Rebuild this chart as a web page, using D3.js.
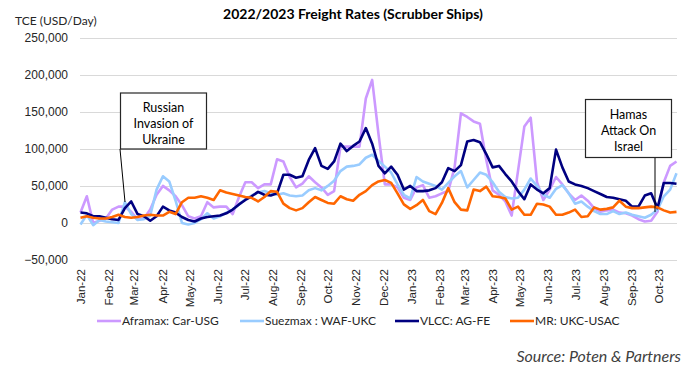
<!DOCTYPE html>
<html>
<head>
<meta charset="utf-8">
<script src="https://cdn.jsdelivr.net/npm/d3@7"></script>
<style>
  body { margin: 0; background: #fff; }
  svg { display: block; font-family: Lato, "Liberation Sans", sans-serif; }
  .grid line { stroke: #d9d9d9; stroke-width: 1; }
  .tick text { fill: #262626; }
</style>
</head>
<body>
<div id="chart"></div>
<script>
// Weekly freight rates, thousands USD/day, first week = 1 Jan 2022
const startDate = new Date(2022, 0, 1);

const aframax = [14, 36, 0, 3, 6, 18, 22, 22, 15, 5, 6, 18, 38, 50, 44, 36, 24, 9, 6, 9,
  28, 21, 22, 22, 12, 35, 55, 55, 47, 52, 52, 86, 83, 62, 48, 53, 63, 55, 48, 38,
  43, 103, 103, 103, 103, 168, 193, 120, 52, 52, 48, 34, 31, 48, 51, 34, 36, 40, 43, 75,
  148, 143, 137, 134, 85, 44, 38, 29, 10, 70, 130, 142, 55, 31, 45, 62, 52, 40, 31, 37,
  30, 20, 15, 17, 18, 14, 13, 10, 5, 2, 3, 15, 55, 77, 83];

const suezmax = [-2, 11, -3, 4, 2, 1, 0, 28, 12, 4, 5, 10, 45, 63, 56, 30, 0, -2, 0, 5,
  13, 6, 9, 14, 18, 25, 32, 37, 41, 43, 40, 38, 40, 37, 36, 37, 44, 47, 44, 50,
  57, 70, 76, 77, 79, 88, 92, 84, 76, 68, 52, 38, 33, 62, 56, 53, 50, 45, 54, 63,
  70, 48, 58, 68, 65, 55, 42, 35, 33, 34, 45, 60, 50, 38, 34, 46, 51, 40, 26, 29,
  22, 16, 12, 12, 16, 12, 14, 11, 9, 7, 11, 18, 36, 45, 67];

const vlcc = [14, 13, 9, 9, 7, 5, 4, 20, 29, 12, 9, 3, 9, 22, 17, 14, 8, 4, 2, 6,
  8, 9, 10, 13, 18, 25, 31, 36, 42, 38, 37, 40, 65, 65, 61, 63, 85, 101, 77, 73,
  83, 107, 97, 104, 110, 128, 107, 77, 67, 76, 65, 45, 50, 43, 43, 44, 47, 55, 74, 70,
  78, 110, 112, 109, 93, 75, 77, 66, 56, 43, 32, 52, 45, 40, 47, 99, 75, 56, 52, 50,
  47, 43, 39, 35, 34, 32, 30, 22, 22, 37, 40, 20, 54, 54, 53];

const mr = [7, 9, 7, 6, 6, 8, 11, 8, 7, 8, 10, 11, 10, 10, 15, 12, 28, 34, 34, 36,
  34, 31, 44, 41, 39, 37, 35, 34, 29, 35, 43, 42, 26, 20, 17, 20, 28, 35, 31, 27,
  26, 36, 32, 30, 38, 43, 51, 56, 58, 54, 40, 25, 19, 24, 31, 16, 12, 27, 47, 28,
  18, 17, 45, 43, 49, 36, 35, 33, 18, 22, 11, 11, 26, 25, 22, 11, 11, 14, 18, 8,
  9, 21, 18, 19, 21, 30, 22, 20, 20, 21, 22, 21, 17, 14, 15];

const seriesNames = ["Aframax: Car-USG", "Suezmax : WAF-UKC", "VLCC: AG-FE", "MR: UKC-USAC"];
const seriesColors = ["#cc99ff", "#99ccff", "#000080", "#ff6600"];
const yTicks = [-50000, 0, 50000, 100000, 150000, 200000, 250000];

const dates = aframax.map((_, i) => d3.timeDay.offset(startDate, 7 * i));
const allSeries = [aframax, suezmax, vlcc, mr];

const width = 695, height = 377;
const svg = d3.select("#chart").append("svg")
  .attr("width", width).attr("height", height);

const x = d3.scaleTime()
  .domain([dates[0], dates[dates.length - 1]])
  .range([80.5, 676.5]);
const y = d3.scaleLinear()
  .domain([-50000, 250000])
  .range([260, 37.7]);

// grid
svg.append("g").attr("class", "grid")
  .selectAll("line").data(yTicks).join("line")
  .attr("x1", 80).attr("x2", 677)
  .attr("y1", d => Math.round(y(d)) + 0.5).attr("y2", d => Math.round(y(d)) + 0.5);

// y axis labels
const yAxis = svg.append("g")
  .attr("transform", "translate(80,0)")
  .call(d3.axisLeft(y).tickValues(yTicks).tickSize(0).tickPadding(12)
    .tickFormat(d3.format(",")));
yAxis.select(".domain").remove();
yAxis.selectAll("text").style("font-size", "12px");

// x axis labels (rotated)
const xAxis = svg.append("g")
  .attr("transform", "translate(0,266)")
  .call(d3.axisBottom(x).ticks(d3.timeMonth.every(1)).tickSize(0)
    .tickFormat(d3.timeFormat("%b-%y")));
xAxis.select(".domain").remove();
xAxis.selectAll("text")
  .style("font-size", "11.5px")
  .attr("transform", "rotate(-90)")
  .attr("text-anchor", "end")
  .attr("x", -3)
  .attr("y", 0)
  .attr("dy", "0.35em");

// lines
const line = d3.line()
  .x((d, i) => x(dates[i]))
  .y(d => y(d * 1000));

svg.append("g").selectAll("path").data(allSeries).join("path")
  .attr("fill", "none")
  .attr("stroke", (d, i) => seriesColors[i])
  .attr("stroke-width", 2.6)
  .attr("stroke-linejoin", "round")
  .attr("d", line);

// annotations
function note(x0, y0, w, h, lines, lineTo) {
  const g = svg.append("g");
  g.append("line")
    .attr("x1", lineTo[0]).attr("y1", lineTo[1])
    .attr("x2", lineTo[2]).attr("y2", lineTo[3])
    .attr("stroke", "#000").attr("stroke-width", 1);
  g.append("rect")
    .attr("x", x0).attr("y", y0).attr("width", w).attr("height", h)
    .attr("fill", "#fff").attr("stroke", "#262626").attr("stroke-width", 1.2);
  lines.forEach((t, i) => {
    g.append("text")
      .attr("x", x0 + w / 2).attr("y", y0 + 19 + i * 16)
      .attr("text-anchor", "middle")
      .style("font-size", "12.5px").attr("fill", "#000")
      .text(t);
  });
}
note(120.5, 93, 86, 56, ["Russian", "Invasion of", "Ukraine"], [120, 149, 125, 202]);
note(585.5, 99.5, 86, 58, ["Hamas", "Attack On", "Israel"], [655, 157, 655, 212]);

// title + axis title
svg.append("text")
  .attr("x", 353).attr("y", 19)
  .attr("text-anchor", "middle")
  .style("font-size", "14px").style("font-weight", "bold")
  .attr("fill", "#000")
  .text("2022/2023 Freight Rates (Scrubber Ships)");

svg.append("text")
  .attr("x", 15).attr("y", 25)
  .style("font-size", "12px").attr("fill", "#262626")
  .text("TCE (USD/Day)");

// legend
const legendX = [97, 240, 395, 510];
const legend = svg.append("g").selectAll("g").data(seriesNames).join("g")
  .attr("transform", (d, i) => `translate(${legendX[i]},321)`);
legend.append("line")
  .attr("x1", 0).attr("x2", 24)
  .attr("stroke", (d, i) => seriesColors[i]).attr("stroke-width", 2.6);
legend.append("text")
  .attr("x", 25).attr("dy", "0.35em")
  .style("font-size", "12px").attr("fill", "#262626")
  .text(d => d);

// source
svg.append("text")
  .attr("x", 681).attr("y", 362)
  .attr("text-anchor", "end")
  .style("font-size", "16px").style("font-style", "italic")
  .attr("fill", "#404040")
  .text("Source: Poten & Partners");
</script>
</body>
</html>
